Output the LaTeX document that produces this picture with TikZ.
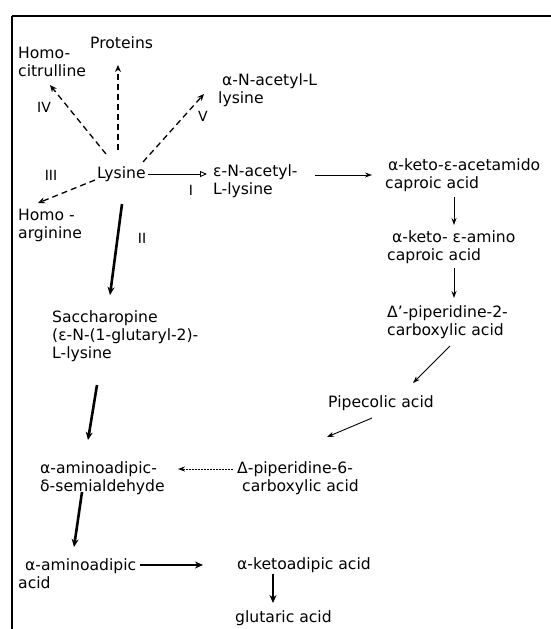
\documentclass[tikz,border=0pt]{standalone}
\usepackage{fontspec}
\setmainfont{DejaVu Sans}
\usetikzlibrary{arrows.meta,calc}
\begin{document}
\begin{tikzpicture}[x=1pt,y=-1pt,
  lbl/.style={anchor=west,inner sep=0pt,align=left,font=\fontsize{15.6}{18}\selectfont},
  rom/.style={inner sep=0pt,font=\fontsize{14}{16}\selectfont},
  thinarr/.style={-{Stealth[length=7pt,width=5pt]},line width=0.9pt},
  openarr/.style={-{Triangle[open,length=7pt,width=6pt]},line width=0.9pt},
  thickarr/.style={-{Stealth[length=8pt,width=7pt]},line width=2.6pt},
  dasharr/.style={-{Stealth[length=7pt,width=6pt]},line width=1.3pt,dash pattern=on 6pt off 4pt},
  dotarr/.style={-{Stealth[length=7pt,width=5pt]},line width=1pt,dash pattern=on 2pt off 1pt}
]
\useasboundingbox (0,0) rectangle (551,629);
% frame
\draw[line width=1.4pt] (12,16) -- (551,16);
\draw[line width=2.2pt] (12,16) -- (70,16);
\draw[line width=1.3pt] (12,16) -- (12,629);
\draw[line width=2.2pt] (12,16) -- (12,40);

% nodes
\node[lbl] (hc) at (18,62) {Homo-\\citrulline};
\node[lbl] (prot) at (90,43) {Proteins};
\node[lbl] (nac) at (218,90) {\hspace*{4pt}α-N-acetyl-L\\lysine};
\node[lbl] (lys) at (97,174) {Lysine};
\node[lbl] (enac) at (213,181.5) {ε-N-acetyl-\\L-lysine};
\node[lbl] (ha) at (18,225.5) {Homo -\\arginine};
\node[lbl] (kea) at (385,175) {\hspace*{3pt}α-keto-ε-acetamido\\caproic acid};
\node[lbl] (kam) at (387,247.5) {\hspace*{5pt}α-keto- ε-amino\\caproic acid};
\node[lbl] (pip2) at (387,322.5) {Δ'-piperidine-2-\\carboxylic acid};
\node[lbl] (sacc) at (52,336.5) {Saccharopine\\(ε-N-(1-glutaryl-2)-\\L-lysine};
\node[lbl] (pipe) at (328,403) {Pipecolic acid};
\node[lbl] (semi) at (40,478) {α-aminoadipic-\\δ-semialdehyde};
\node[lbl] (pip6) at (237,478) {Δ-piperidine-6-\\\hspace*{5pt}carboxylic acid};
\node[lbl] (aaa) at (18,573.5) {\hspace*{7pt}α-aminoadipic\\acid};
\node[lbl] (kaa) at (237,565) {α-ketoadipic acid};
\node[lbl] (glu) at (235,618) {glutaric acid};

% roman labels
\node[rom] (rIV) at (44,107) {IV};
\node[rom] (rV) at (203,116) {V};
\node[rom] (rIII) at (51,175) {III};
\node[rom] (rI) at (191,190) {I};
\node[rom] (rII) at (142,238) {II};

% connectors
\draw[dasharr] ($(lys.west)+(9,-20)$) -- ($(hc.west)+(32,23)$);
\draw[dasharr] ($(lys.west)+(21,-24)$) -- ($(prot.west)+(28,22)$);
\draw[dasharr] ($(lys.west)+(46,-12)$) -- ($(nac.west)+(-14,4)$);
\draw[openarr] ($(lys.west)+(51,0)$) -- ($(enac.west)+(-6,-7.5)$);
\draw[dasharr] ($(lys.west)+(-2,6)$) -- ($(ha.west)+(20,-22.5)$);
\draw[thickarr] ($(lys.west)+(25,30)$) -- ($(sacc.west)+(58,-41.5)$);
\draw[thinarr] ($(enac.west)+(102,-6.5)$) -- ($(kea.west)+(-13,0)$);
\draw[thinarr] ($(kea.west)+(69,22)$) -- ($(kam.west)+(67,-22.5)$);
\draw[thinarr] ($(kam.west)+(67,20.5)$) -- ($(pip2.west)+(67,-24.5)$);
\draw[thinarr] ($(pip2.west)+(63,23.5)$) -- ($(pipe.west)+(85,-20)$);
\draw[thinarr] ($(pipe.west)+(44,15)$) -- ($(pip6.west)+(90,-41)$);
\draw[dotarr] ($(pip6.west)+(-4,-9)$) -- ($(semi.west)+(138,-9)$);
\draw[thickarr] ($(sacc.west)+(45,48.5)$) -- ($(semi.west)+(48,-38)$);
\draw[thickarr] ($(semi.west)+(42,14)$) -- ($(aaa.west)+(56,-26.5)$);
\draw[thickarr] ($(aaa.west)+(122,-8.5)$) -- ($(kaa.west)+(-34,0)$);
\draw[thickarr,line width=2.2pt] ($(kaa.west)+(36,9)$) -- ($(glu.west)+(38,-15)$);
\end{tikzpicture}
\end{document}
